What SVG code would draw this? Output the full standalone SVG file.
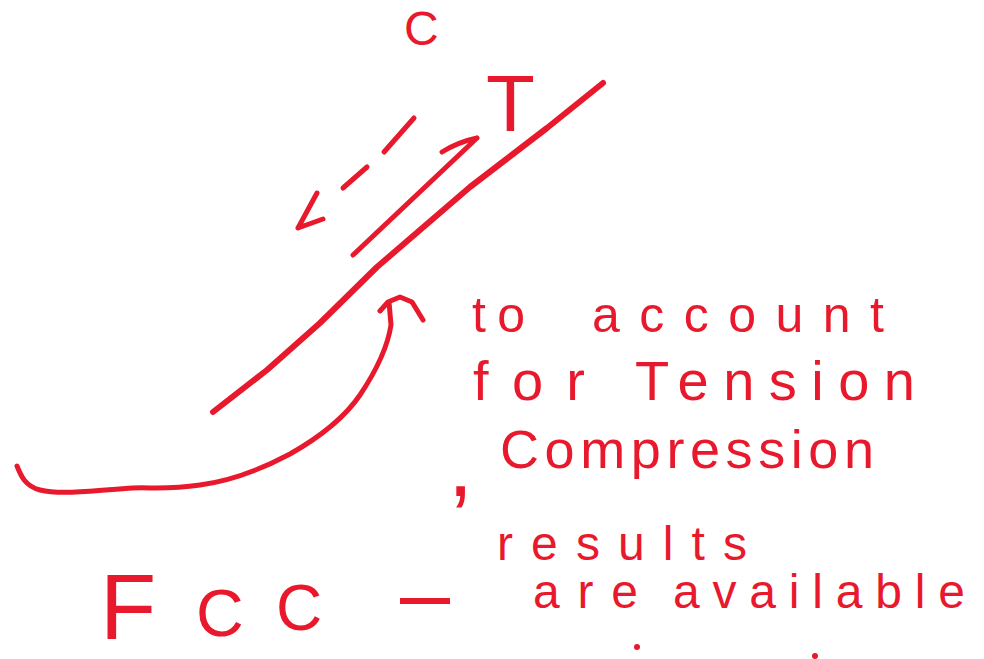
<svg xmlns="http://www.w3.org/2000/svg" width="984" height="659" viewBox="0 0 984 659">
<style>
.hw { font-family: "Liberation Sans", Arial, sans-serif; fill: #e8192c; }
.ln { fill: none; stroke: #e8192c; stroke-width: 6; stroke-linecap: round; stroke-linejoin: round; }
.thin { stroke-width: 5; }
</style>
<rect width="984" height="659" fill="#ffffff"/>

<g id="member">
  <path class="ln" d="M603,83 L547,128 L470,187 L377,267 L320,323 L267,370 L213,412"/>
</g>

<g id="label-C">
  <text class="hw" x="404" y="45" font-size="48">C</text>
</g>
<g id="label-T">
  <text class="hw" x="486" y="131" font-size="80">T</text>
</g>

<g id="connectors">
  <!-- tension arrow -->
  <path class="ln thin" d="M353,255 L477,138 M442,152 Q458,142 477,138"/>
  <!-- compression dashed arrow -->
  <path class="ln thin" d="M414,118 L384,152 M367,167 L343,188 M317,193 L298,228 L323,219"/>
  <!-- curved pointer arrow -->
  <path class="ln thin" d="M17,466 C21,476 25,486 40,490 C60,495 90,491 133,488 C150,487 165,490 200,485 C230,481 260,470 290,454 C320,437 345,417 360,395 C378,368 388,345 391,325 L389,302 M380,311 L388,302 L400,297 L412,302 L423,320"/>
</g>

<g id="note">
  <text class="hw" font-size="50"><tspan x="472" y="332" textLength="53" lengthAdjust="spacing">to</tspan><tspan x="592" y="332" textLength="292" lengthAdjust="spacing">account</tspan></text>
  <text class="hw" font-size="56"><tspan x="473" y="400" textLength="112" lengthAdjust="spacing">for</tspan><tspan x="635" y="400" textLength="280" lengthAdjust="spacing">Tension</tspan></text>
  <text class="hw" font-size="54"><tspan x="448" y="496" font-size="90">,</tspan><tspan x="500" y="468" textLength="374" lengthAdjust="spacing">Compression</tspan></text>
</g>

<g id="fcc">
  <text class="hw"><tspan x="100" y="639" font-size="92">F</tspan><tspan x="196" y="636" font-size="66">C</tspan><tspan x="276" y="630" font-size="64">C</tspan><tspan x="400" y="624" font-size="90">–</tspan></text>
  <text class="hw" font-size="48"><tspan x="497" y="560" textLength="250" lengthAdjust="spacing">results</tspan></text>
  <text class="hw" font-size="48"><tspan x="533" y="608" textLength="105" lengthAdjust="spacing">are</tspan><tspan x="673" y="608" textLength="292" lengthAdjust="spacing">available</tspan></text>
  <circle cx="637" cy="647" r="3" fill="#e8192c"/>
  <circle cx="815" cy="656" r="3" fill="#e8192c"/>
</g>
</svg>
